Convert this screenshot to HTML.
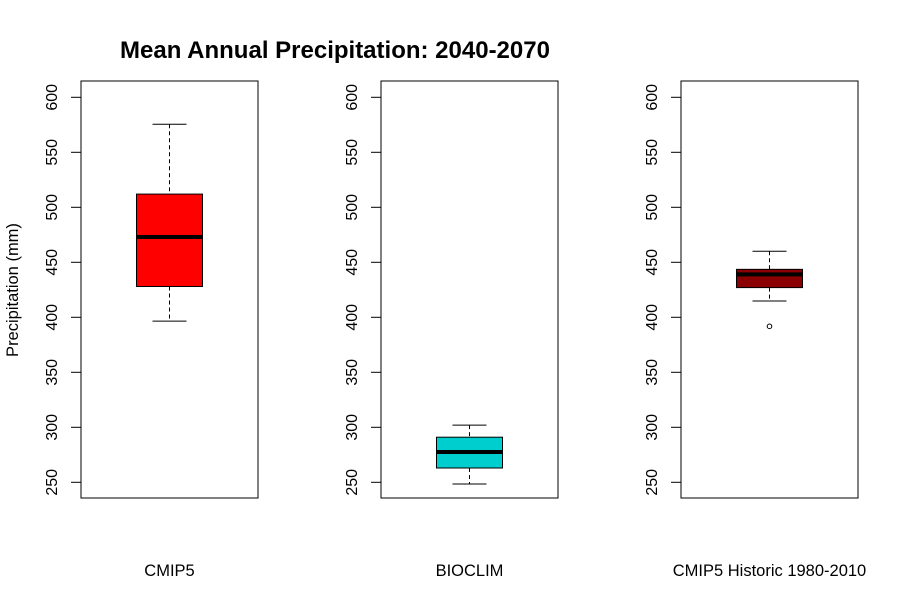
<!DOCTYPE html>
<html><head><meta charset="utf-8"><style>body{margin:0;background:#fff}svg{display:block;font-family:"Liberation Sans",Arial,sans-serif}</style></head>
<body>
<svg id="chart" width="900" height="600">
<text x="335" y="58" text-anchor="middle" font-size="24" font-weight="bold">Mean Annual Precipitation: 2040-2070</text>
<text transform="translate(18,290) rotate(-90)" text-anchor="middle" font-size="16.5">Precipitation (mm)</text>
</svg>
<script>
const categories=["CMIP5","BIOCLIM","CMIP5 Historic 1980-2010"];
const whiskerHigh=[575.5,302,460];
const q3=[512,291,443.6];
const medians=[473,277.5,439];
const q1=[428,263,427];
const whiskerLow=[396.5,248.5,414.8];
const outliers=[[],[],[391.8]];
const colors=["#ff0000","#00cdcd","#8b0000"];
const ticks=[250,300,350,400,450,500,550,600];
const svg=document.getElementById('chart');
const NS="http://www.w3.org/2000/svg";
const panelX=[81,381,681],panelW=177,top_=81,bot=498,boxW=66,capW=34;
function y(v){return 97.3+(600-v)*1.1;}
function mk(t,a,p){const e=document.createElementNS(NS,t);for(const k in a)e.setAttribute(k,a[k]);(p||svg).appendChild(e);return e;}
categories.forEach((c,i)=>{
  const g=mk('g',{});
  
  
  const x0=panelX[i],cx=x0+panelW/2;
  const fr=mk('rect',{x:x0,y:top_,width:panelW,height:bot-top_,fill:'none',stroke:'#000','stroke-width':1},g);
  
  
  ticks.forEach(t=>{
    mk('line',{x1:x0-10,x2:x0,y1:y(t),y2:y(t),stroke:'#000'},g);
    const tx=mk('text',{transform:`translate(${x0-24},${y(t)}) rotate(-90)`,'text-anchor':'middle','font-size':16,fill:'#000'},g);
    tx.textContent=t;
    
    
  });
  const lab=mk('text',{x:cx,y:576,'text-anchor':'middle','font-size':16.5},g);
  lab.textContent=c;
  
  
  mk('line',{x1:cx,x2:cx,y1:y(whiskerHigh[i]),y2:y(q3[i]),stroke:'#000','stroke-dasharray':'4,3'},g);
  mk('line',{x1:cx,x2:cx,y1:y(q1[i]),y2:y(whiskerLow[i]),stroke:'#000','stroke-dasharray':'4,3'},g);
  [whiskerHigh[i],whiskerLow[i]].forEach(v=>{
    const l=mk('line',{x1:cx-capW/2,x2:cx+capW/2,y1:y(v),y2:y(v),stroke:'#000'},g);
    
    
  });
  const b=mk('rect',{x:cx-boxW/2,y:y(q3[i]),width:boxW,height:y(q1[i])-y(q3[i]),fill:colors[i],stroke:'#000'},g);
  
  
  const m=mk('line',{x1:cx-boxW/2,x2:cx+boxW/2,y1:y(medians[i]),y2:y(medians[i]),stroke:'#000','stroke-width':4},g);
  
  
  outliers[i].forEach(v=>{
    const o=mk('circle',{cx:cx,cy:y(v),r:2.3,fill:'none',stroke:'#000'},g);
    
    
  });
});
</script>
</body></html>
